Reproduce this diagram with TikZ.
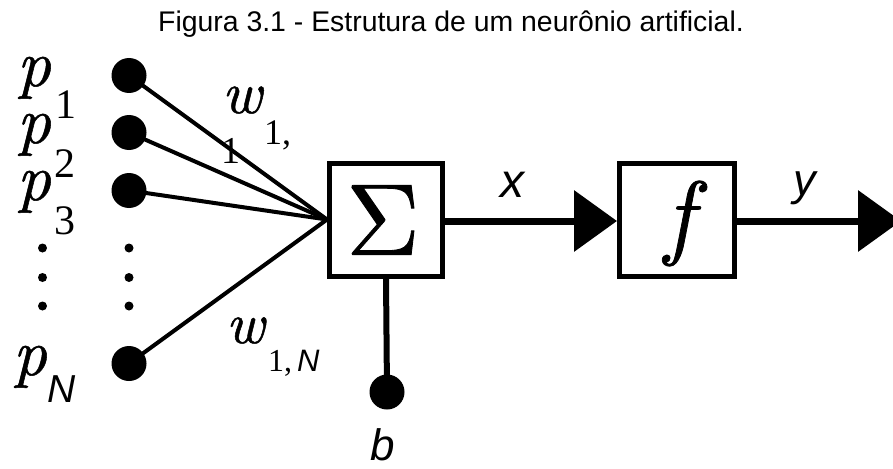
\documentclass[tikz,border=0pt]{standalone}
\usepackage{fontspec}
\newfontfamily\lserif{Liberation Serif}
\newfontfamily\lsans{Liberation Sans}
\newfontface\lmit[FakeBold=0.8]{lmroman10-italic.otf}
\newfontface\lmup[FakeBold=0.8]{lmroman10-regular.otf}
\usetikzlibrary{arrows.meta}
\newcommand{\fs}[1]{\fontsize{#1}{#1}\selectfont}
\begin{document}
\begin{tikzpicture}[x=1pt,y=-1pt,
  txt/.style={inner sep=0pt, outer sep=0pt},
  bigdot/.style={circle, fill=black, inner sep=0pt, minimum size=35pt},
  smalldot/.style={circle, fill=black, inner sep=0pt, minimum size=9pt},
  blk/.style={draw=black, line width=5pt, inner sep=0pt, minimum width=113pt, minimum height=113pt},
  inp/.style={line width=4pt},
  sig/.style={line width=7pt, -{Triangle[length=43pt,width=60pt]}},
  ivar/.style={txt, anchor=base west, font=\lmit\fs{66}},
  digit/.style={txt, font=\lserif\fs{42}},
  var/.style={txt, anchor=base, font=\lsans\itshape\fs{46}},
]
\useasboundingbox (0,0) rectangle (893,468);
% title
\node[txt, anchor=base, font=\lsans\fs{28.4}] (title) at (451,32) {Figura 3.1 - Estrutura de um neurônio artificial.};
% input labels
\node[ivar] (lp1) at (17,86) {p};
\node[digit, anchor=base] (ls1) at (66,118) {1};
\node[ivar] (lp2) at (17,143) {p};
\node[digit, anchor=base] (ls2) at (65,177) {2};
\node[ivar] (lp3) at (17,200) {p};
\node[digit, anchor=base] (ls3) at (65,234) {3};
\node[ivar] (lpN) at (13,375) {p};
\node[txt, anchor=base, font=\lsans\itshape\fs{39}] (lsN) at (62,402) {N};
% weight labels
\node[ivar, font=\lmit\fs{60}] (w1) at (222,113) {w};
\node[txt, anchor=base west, font=\lserif\fs{36}] (w1a) at (264,144) {1,};
\node[txt, anchor=base west, font=\lserif\fs{38}] (w1b) at (221,163) {1};
\node[ivar, font=\lmit\fs{58}] (wN) at (226,343) {w};
\node[txt, anchor=base west, font=\lserif\fs{32}] (wNa) at (268,371) {1,};
\node[txt, anchor=base west, font=\lsans\itshape\fs{31}] (wNb) at (297,371) {N};
% input dots
\node[bigdot] (d1) at (129,75.5) {};
\node[bigdot] (d2) at (129,132.5) {};
\node[bigdot] (d3) at (129,190.5) {};
\node[bigdot] (dN) at (129,363.5) {};
% vertical ellipses
\node[smalldot] (e1) at (42.5,248) {};
\node[smalldot] (e2) at (42.5,277.5) {};
\node[smalldot] (e3) at (42.5,306) {};
\node[smalldot] (e4) at (129,248) {};
\node[smalldot] (e5) at (129,277.5) {};
\node[smalldot] (e6) at (129,306) {};
% blocks
\node[blk] (sum) at (386,219.5) {};
\node[txt, font=\lmup\fs{102}] (sigma) at (383,220) {Σ};
\node[blk, minimum width=115pt] (act) at (677,219.5) {};
\node[txt, font=\lmit\fs{94}] (fsym) at (679,223.5) {f};
% bias
\node[bigdot] (bd) at (387,392) {};
\node[var, font=\lsans\itshape\fs{44}] (bl) at (383,460) {b};
% signal labels
\node[var, font=\lsans\itshape\fs{48}] (xl) at (512,197) {x};
\node[var, font=\lsans\itshape\fs{45}] (yl) at (805,195) {y};
\coordinate (out) at (901,221);
% connectors
\draw[inp] (d1.center) -- (sum.west);
\draw[inp] (d2.center) -- (sum.west);
\draw[inp] (d3.center) -- (sum.west);
\draw[inp] (dN.center) -- (sum.west);
\draw[line width=6pt] (sum.south) -- (bd.center);
\draw[sig] (sum.east |- 0,221) -- (act.west |- 0,221);
\draw[sig] (act.east |- 0,221) -- (out);
\end{tikzpicture}
\end{document}
